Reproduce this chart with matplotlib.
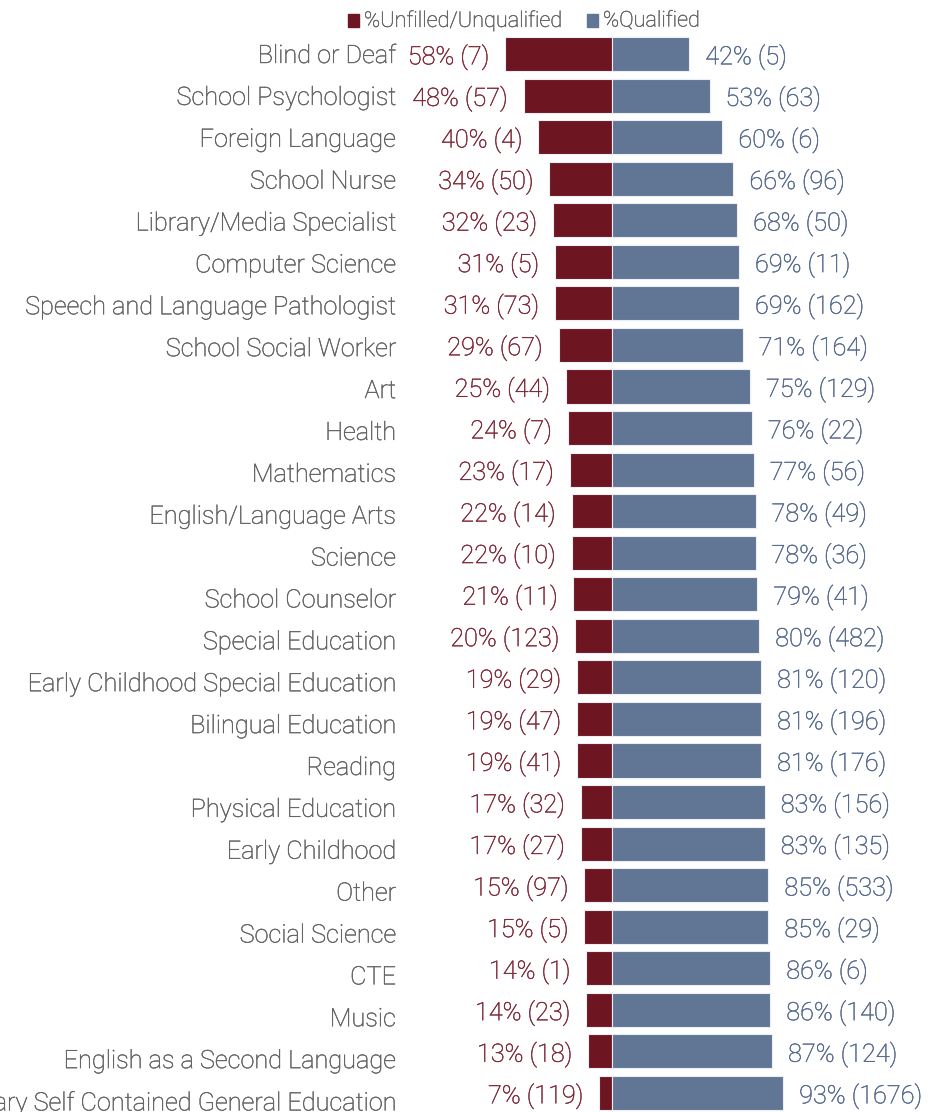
import matplotlib

matplotlib.use("Agg")
import matplotlib.pyplot as plt
import matplotlib.patheffects as pe
from matplotlib.patches import Rectangle
from matplotlib import transforms

categories = [
    "Blind or Deaf",
    "School Psychologist",
    "Foreign Language",
    "School Nurse",
    "Library/Media Specialist",
    "Computer Science",
    "Speech and Language Pathologist",
    "School Social Worker",
    "Art",
    "Health",
    "Mathematics",
    "English/Language Arts",
    "Science",
    "School Counselor",
    "Special Education",
    "Early Childhood Special Education",
    "Bilingual Education",
    "Reading",
    "Physical Education",
    "Early Childhood",
    "Other",
    "Social Science",
    "CTE",
    "Music",
    "English as a Second Language",
    "Elementary Self Contained General Education",
]
unfilled_pct = [58, 48, 40, 34, 32, 31, 31, 29, 25, 24, 23, 22, 22, 21, 20, 19, 19, 19, 17, 17, 15, 15, 14, 14, 13, 7]
unfilled_n = [7, 57, 4, 50, 23, 5, 73, 67, 44, 7, 17, 14, 10, 11, 123, 29, 47, 41, 32, 27, 97, 5, 1, 23, 18, 119]
qualified_pct = [42, 53, 60, 66, 68, 69, 69, 71, 75, 76, 77, 78, 78, 79, 80, 81, 81, 81, 83, 83, 85, 85, 86, 86, 87, 93]
qualified_n = [5, 63, 6, 96, 50, 11, 162, 164, 129, 22, 56, 49, 36, 41, 482, 120, 196, 176, 156, 135, 533, 29, 6, 140, 124, 1676]

RED = "#6d1521"
BLUE = "#617595"
RED_TEXT = "#7d2736"
BLUE_TEXT = "#55698c"
GREY_TEXT = "#626262"
FONT = "Roboto"
SIZE = 18.2

W, H = 943, 1112
PX_PER_PCT = 1.84
CENTER_X = 612
ROW_TOP = 54
ROW_STEP = 41.56
LABEL_TOP = 53
LABEL_STEP = 41.88

fig = plt.figure(figsize=(W / 100, H / 100), dpi=100)
ax = fig.add_axes([0, 0, 1, 1])
ax.set_xlim(-CENTER_X / PX_PER_PCT, (W - CENTER_X) / PX_PER_PCT)
ax.set_ylim((H - ROW_TOP) / ROW_STEP, -ROW_TOP / ROW_STEP)
ax.axis("off")

rows = list(range(len(categories)))
neg = [-v for v in unfilled_pct]
ax.barh(rows, neg, height=0.82, color=RED, edgecolor="#eceef3", linewidth=0.8)
ax.barh(rows, qualified_pct, height=0.82, color=BLUE, edgecolor="#eceef3", linewidth=0.8)


def thicken(color):
    # light face with a hairline stroke, a touch heavier than plain Roboto Light
    return [pe.withStroke(linewidth=0.3, foreground=color)]


# nudge text down a little so the cap height sits on the bar centre
shifted = transforms.offset_copy(ax.transData, fig=fig, x=0, y=-3, units="dots")
pad = 16 / PX_PER_PCT
label_x = -(CENTER_X - 396) / PX_PER_PCT
text_style = dict(va="center", fontsize=SIZE, family=FONT, fontweight="light", transform=shifted)
for i, name in enumerate(categories):
    # category names run on a slightly wider pitch than the bars
    label_y = (LABEL_TOP + LABEL_STEP * i - ROW_TOP) / ROW_STEP
    ax.text(label_x, label_y, name, ha="right", color=GREY_TEXT, path_effects=thicken(GREY_TEXT), **text_style)
    ax.text(-unfilled_pct[i] - pad, i, f"{unfilled_pct[i]}% ({unfilled_n[i]})", ha="right",
            color=RED_TEXT, path_effects=thicken(RED_TEXT), **text_style)
    ax.text(qualified_pct[i] + pad, i, f"{qualified_pct[i]}% ({qualified_n[i]})", ha="left",
            color=BLUE_TEXT, path_effects=thicken(BLUE_TEXT), **text_style)

# legend row above the bars
legend_y = 1 - 21 / H
for x0, color, label in [(348, RED, "%Unfilled/Unqualified"), (587, BLUE, "%Qualified")]:
    fig.patches.append(Rectangle((x0 / W, 1 - 27 / H), 11 / W, 13 / H, color=color,
                                 transform=fig.transFigure, figure=fig))
    fig.text((x0 + 16) / W, legend_y, label, ha="left", va="center", color=GREY_TEXT,
             fontsize=15.6, family=FONT, fontweight="light", path_effects=thicken(GREY_TEXT))

fig.savefig("out.png", dpi=100, facecolor="white")
